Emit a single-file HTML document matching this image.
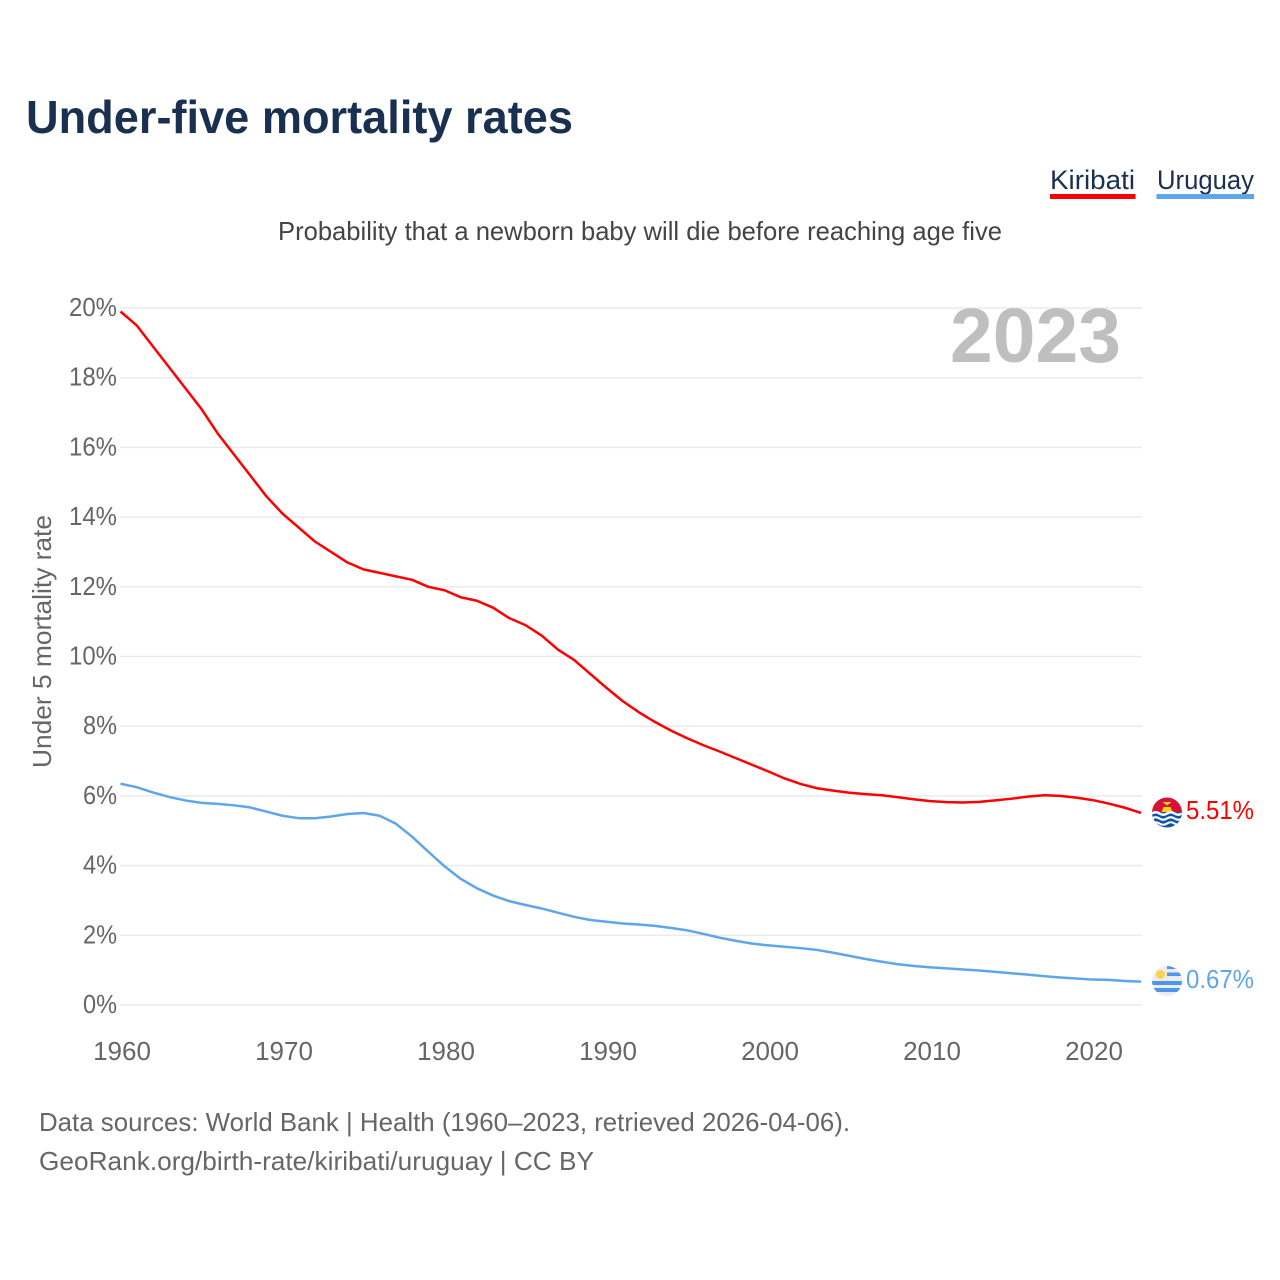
<!DOCTYPE html>
<html lang="en">
<head>
<meta charset="utf-8">
<title>Under-five mortality rates</title>
<style>
html,body{margin:0;padding:0;background:#fff;}
svg{display:block;font-family:"Liberation Sans",sans-serif;}
</style>
</head>
<body>
<svg id="chart" xmlns="http://www.w3.org/2000/svg" width="1280" height="1280" viewBox="0 0 1280 1280">
  <defs>
    <clipPath id="clip-ki"><circle cx="1167" cy="812.500" r="15"/></clipPath>
    <clipPath id="clip-uy"><circle cx="1167" cy="981" r="15"/></clipPath>
  </defs>
  <rect width="1280" height="1280" fill="#fff"/>
  <text x="26" y="133" font-size="46" font-weight="700" fill="#1a3050" textLength="547" lengthAdjust="spacingAndGlyphs">Under-five mortality rates</text>

  <g>
    <text x="1050" y="189" font-size="27" fill="#1a3050" textLength="85" lengthAdjust="spacingAndGlyphs">Kiribati</text>
    <rect x="1050" y="194" width="85.500" height="5" fill="#ff0000"/>
  </g>
  <g>
    <text x="1157" y="189" font-size="27" fill="#1a3050" textLength="97" lengthAdjust="spacingAndGlyphs">Uruguay</text>
    <rect x="1156.500" y="194" width="97.500" height="5" fill="#5ea6ec"/>
  </g>

  <text x="278" y="240" font-size="26" fill="#444" textLength="724" lengthAdjust="spacingAndGlyphs">Probability that a newborn baby will die before reaching age five</text>

  <g id="grid"></g>
  <g id="yticks"></g>
  <g id="xticks"></g>

  <text transform="translate(51 768) rotate(-90)" font-size="26" fill="#666" textLength="253" lengthAdjust="spacingAndGlyphs">Under 5 mortality rate</text>

  <text x="950" y="362" font-size="77" font-weight="700" fill="#bfbfbf" textLength="171" lengthAdjust="spacingAndGlyphs">2023</text>

  <g id="series"></g>

  <g clip-path="url(#clip-ki)">
    <rect x="1152" y="797" width="30" height="17" fill="#d6123a"/>
    <rect x="1152" y="812" width="30" height="16" fill="#0f55a8"/>
    <path d="M1161.500 812 L1163.500 807 L1170.500 807 L1172.500 812 Z" fill="#fcd116"/>
    <path d="M1162.500 802 L1171.500 802 L1167 805.500 Z" fill="#fcd116"/>
    <path d="M1152 813.500 q3.750 -2.500 7.500 0 t7.500 0 t7.500 0 t7.500 0" fill="none" stroke="#fff" stroke-width="2.400"/>
    <path d="M1152 818.500 q3.750 -2.500 7.500 0 t7.500 0 t7.500 0 t7.500 0" fill="none" stroke="#fff" stroke-width="2.200"/>
    <path d="M1152 823.500 q3.750 -2.500 7.500 0 t7.500 0 t7.500 0 t7.500 0" fill="none" stroke="#fff" stroke-width="2"/>
  </g>
  <g clip-path="url(#clip-uy)">
    <rect x="1152" y="966" width="30" height="30" fill="#ececec"/>
    <rect x="1167" y="966" width="15" height="3" fill="#4d97ea"/>
    <rect x="1167" y="972.500" width="15" height="3.500" fill="#4d97ea"/>
    <rect x="1152" y="981" width="30" height="4" fill="#4d97ea"/>
    <rect x="1152" y="988" width="30" height="4" fill="#4d97ea"/>
    <circle cx="1160.500" cy="974.500" r="4.500" fill="#fcd34d"/>
  </g>

  <text x="1186" y="819" font-size="25.500" fill="#ff0000" textLength="68" lengthAdjust="spacingAndGlyphs">5.51%</text>
  <text x="1186" y="988" font-size="25.500" fill="#5ea6ec" textLength="68" lengthAdjust="spacingAndGlyphs">0.67%</text>

  <text x="39" y="1131" font-size="26" fill="#666" textLength="811" lengthAdjust="spacingAndGlyphs">Data sources: World Bank | Health (1960–2023, retrieved 2026-04-06).</text>
  <text x="39" y="1170" font-size="26" fill="#666" textLength="555" lengthAdjust="spacingAndGlyphs">GeoRank.org/birth-rate/kiribati/uruguay | CC BY</text>
</svg>
<script>
const startYear = 1960;
const kiribatiValues = [19.9,19.5,18.9,18.3,17.7,17.1,16.4,15.8,15.2,14.6,14.1,13.7,13.3,13.0,12.7,12.5,12.4,12.3,12.2,12.0,11.9,11.7,11.6,11.4,11.1,10.9,10.6,10.2,9.9,9.5,9.1,8.72,8.4,8.12,7.87,7.65,7.45,7.27,7.08,6.89,6.7,6.5,6.34,6.22,6.15,6.09,6.05,6.02,5.96,5.9,5.85,5.82,5.81,5.83,5.87,5.92,5.98,6.02,6.0,5.95,5.88,5.78,5.66,5.51];
const uruguayValues = [6.35,6.25,6.1,5.97,5.87,5.8,5.77,5.73,5.67,5.55,5.43,5.36,5.36,5.41,5.48,5.51,5.43,5.2,4.83,4.4,3.98,3.62,3.35,3.14,2.98,2.87,2.77,2.65,2.53,2.44,2.39,2.34,2.31,2.27,2.21,2.14,2.04,1.93,1.84,1.76,1.71,1.67,1.63,1.58,1.5,1.41,1.32,1.24,1.17,1.12,1.08,1.05,1.02,0.99,0.95,0.91,0.87,0.83,0.79,0.76,0.73,0.72,0.69,0.67];
const yTickValues = [0,2,4,6,8,10,12,14,16,18,20];
const xTickYears = [1960,1970,1980,1990,2000,2010,2020];

const NS = 'http://www.w3.org/2000/svg';
function xScale(year){ return 120.5 + (year - 1960) * 16.2; }
function yScale(v){ return 1005 - v * 34.85; }
function make(tag, parent, attrs){
  const el = document.createElementNS(NS, tag);
  for (const k in attrs) el.setAttribute(k, attrs[k]);
  parent.appendChild(el);
  return el;
}
const grid = document.getElementById('grid');
const yticks = document.getElementById('yticks');
const xticks = document.getElementById('xticks');
const seriesGroup = document.getElementById('series');

yTickValues.forEach(function(v){
  const line = make('line', grid, {x1:120, x2:1142, y1:yScale(v), y2:yScale(v), stroke:'#ebebeb', 'stroke-width':1.5});
  
  
  const text = v + '%';
  const label = make('text', yticks, {x:117, y:yScale(v)+8, 'text-anchor':'end', 'font-size':26, fill:'#666', textLength:text.length === 2 ? 34 : 48, lengthAdjust:'spacingAndGlyphs'});
  label.textContent = text;
  
  
});
xTickYears.forEach(function(y){
  const label = make('text', xticks, {x:xScale(y)+1.5, y:1060, 'text-anchor':'middle', 'font-size':26, fill:'#666'});
  label.textContent = y;
  
  
});
function drawSeries(values, color){
  const d = values.map(function(v, i){
    return (i ? 'L' : 'M') + xScale(startYear + i).toFixed(2) + ' ' + yScale(v).toFixed(2);
  }).join(' ');
  return make('path', seriesGroup, {d:d, fill:'none', stroke:color, 'stroke-width':2.5, 'stroke-linejoin':'round'});
}
const kiribatiLine = drawSeries(kiribatiValues, '#ff0000');


const uruguayLine = drawSeries(uruguayValues, '#5ea6ec');


</script>
</body>
</html>
